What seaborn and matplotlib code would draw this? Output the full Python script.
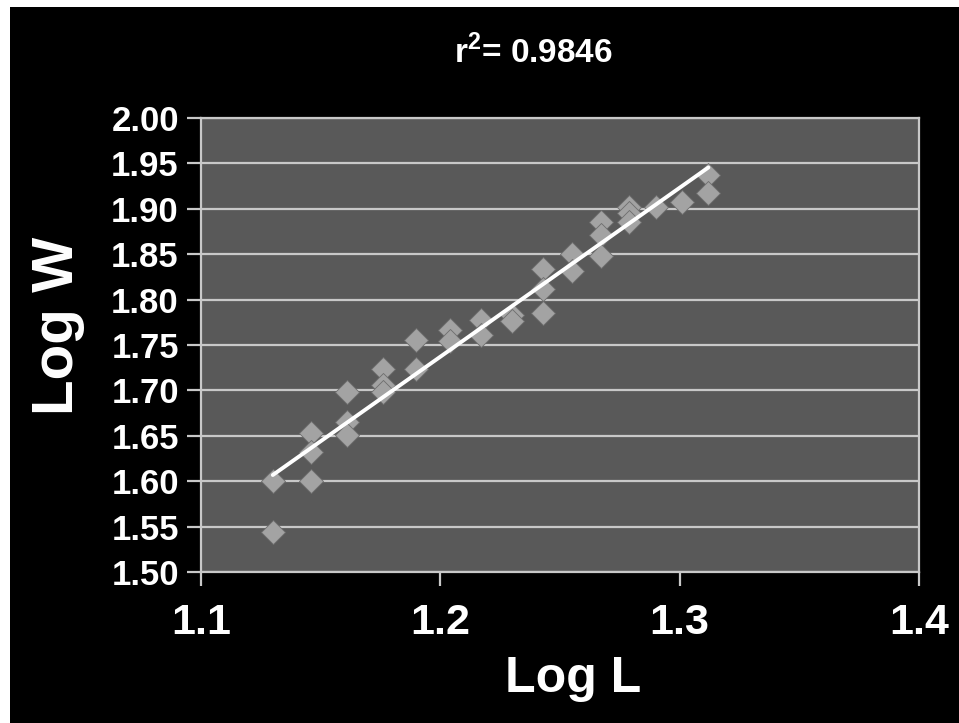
import numpy as np
import pandas as pd
import seaborn as sns
import matplotlib.pyplot as plt
from matplotlib.patches import Rectangle

# log length / log weight readings
log_l = [1.130, 1.130,
         1.146, 1.146, 1.146,
         1.161, 1.161, 1.161,
         1.176, 1.176, 1.176,
         1.190, 1.190,
         1.204, 1.204,
         1.217, 1.217,
         1.230, 1.230,
         1.243, 1.243, 1.243,
         1.255, 1.255,
         1.267, 1.267, 1.267,
         1.279, 1.279, 1.279,
         1.290,
         1.301,
         1.312, 1.312]
log_w = [1.600, 1.544,
         1.653, 1.632, 1.600,
         1.698, 1.665, 1.651,
         1.724, 1.706, 1.698,
         1.755, 1.724,
         1.766, 1.754,
         1.778, 1.761,
         1.783, 1.776,
         1.834, 1.812, 1.785,
         1.850, 1.831,
         1.886, 1.871, 1.848,
         1.902, 1.895, 1.886,
         1.902,
         1.908,
         1.937, 1.917]
r2_text = r'r$^{\mathbf{2}}$= 0.9846'
x_ticks = [1.1, 1.2, 1.3, 1.4]
y_ticks = [1.50, 1.55, 1.60, 1.65, 1.70, 1.75, 1.80, 1.85, 1.90, 1.95, 2.00]

df = pd.DataFrame({'Log L': log_l, 'Log W': log_w})

sns.set_style('dark')
plt.rcParams['font.family'] = ['Liberation Sans', 'DejaVu Sans']
plt.rcParams['font.weight'] = 'bold'
plt.rcParams['mathtext.fontset'] = 'custom'
plt.rcParams['mathtext.bf'] = 'Liberation Sans:bold'
plt.rcParams['mathtext.rm'] = 'Liberation Sans:bold'

fig = plt.figure(figsize=(9.59, 7.23), dpi=100)
fig.patch.set_facecolor('white')
# black slide background, thin white strip top and left
fig.patches.append(Rectangle((10 / 959, 0), 1, 1 - 7 / 723, transform=fig.transFigure,
                             facecolor='black', edgecolor='none', zorder=-10))
ax = fig.add_axes([201 / 959, 1 - 572 / 723, 718 / 959, 454 / 723])
ax.set_facecolor('#595959')

sns.regplot(data=df, x='Log L', y='Log W', ax=ax, ci=None, marker='D',
            scatter_kws={'s': 150, 'color': '#a3a3a3', 'edgecolor': '#6e6e6e',
                         'linewidths': 0.6, 'alpha': 1, 'zorder': 3},
            line_kws={'color': 'white', 'lw': 2.8, 'zorder': 4})

ax.set_xlim(1.1, 1.4)
ax.set_ylim(1.5, 2.0)
ax.set_xticks(x_ticks)
ax.set_xticklabels([f'{t:.1f}' for t in x_ticks])
ax.set_yticks(y_ticks)
ax.set_yticklabels([f'{t:.2f}' for t in y_ticks])
ax.grid(axis='y', color='#c8c8c8', lw=1.6)
ax.grid(axis='x', visible=False)
ax.set_axisbelow(True)

for s in ax.spines.values():
    s.set_visible(True)
    s.set_color('#c8c8c8')
    s.set_linewidth(1.6)

ax.tick_params(axis='x', colors='#c8c8c8', labelcolor='white', labelsize=31,
               direction='out', length=10, width=1.6, pad=12, bottom=True)
ax.tick_params(axis='y', colors='#c8c8c8', labelcolor='white', labelsize=25,
               direction='out', length=10, width=1.6, pad=6, left=True)
for lab in ax.get_xticklabels() + ax.get_yticklabels():
    lab.set_fontweight('bold')

ax.set_xlabel('Log L', fontsize=36, fontweight='bold', color='white')
ax.set_ylabel('Log W', fontsize=42, fontweight='bold', color='white')
ax.xaxis.set_label_coords(0.518, -0.185)
ax.yaxis.set_label_coords(-0.162, 0.542)

fig.text(533 / 959, 1 - 52 / 723, r2_text, fontsize=24, fontweight='bold',
         color='white', ha='center', va='center')

fig.savefig('out.png', dpi=100, facecolor=fig.get_facecolor())
